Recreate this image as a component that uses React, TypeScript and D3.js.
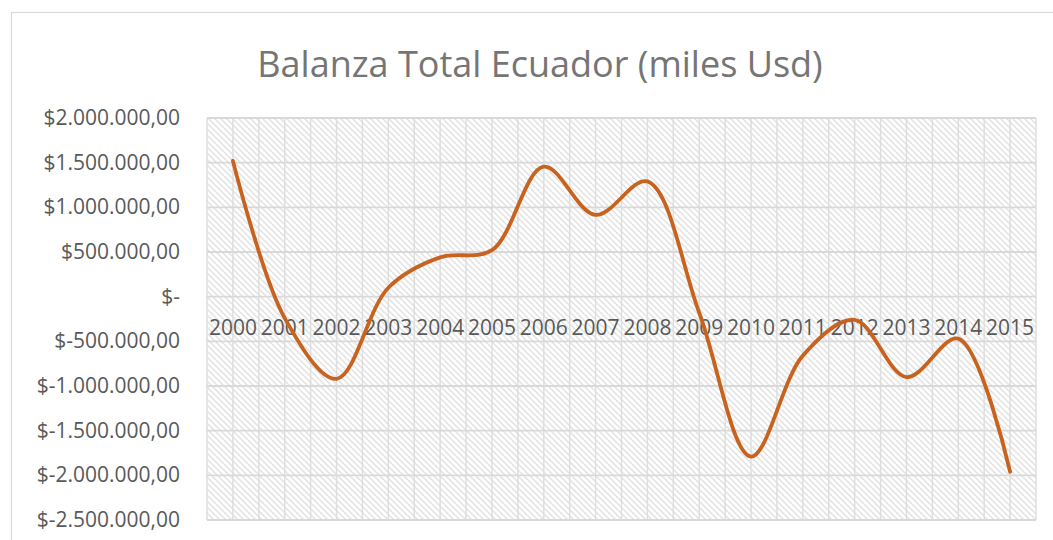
import { useEffect, useRef } from 'react'
import * as d3 from 'd3'

const years = ['2000', '2001', '2002', '2003', '2004', '2005', '2006', '2007',
  '2008', '2009', '2010', '2011', '2012', '2013', '2014', '2015']
const balanza = [1520000, -240000, -920000, 100000, 440000, 520000, 1455000, 915000,
  1290000, -180000, -1790000, -660000, -260000, -900000, -470000, -1960000]
const yTicks = [2000000, 1500000, 1000000, 500000, 0, -500000, -1000000, -1500000, -2000000, -2500000]
const title = 'Balanza Total Ecuador (miles Usd)'

const fmtMoney = (v: number) => {
  if (v === 0) return '$-'
  const s = Math.abs(v).toFixed(2).split('.')
  const int = s[0].replace(/\B(?=(\d{3})+(?!\d))/g, '.')
  return '$' + (v < 0 ? '-' : '') + int + ',' + s[1]
}

export default function App() {
  const svgRef = useRef<SVGSVGElement>(null)

  useEffect(() => {
    const width = 1053, height = 540
    const svg = d3.select(svgRef.current)
    svg.selectAll('*').remove()
    svg.attr('width', width).attr('height', height).style('background', '#fff')

    const font = '"Open Sans", sans-serif'
    const left = 207, right = 1036, top = 118, bottom = 520

    const x = d3.scaleBand<string>().domain(years).range([left, right]).padding(0)
    const y = d3.scaleLinear().domain([-2500000, 2000000]).range([bottom, top])

    // hatch pattern
    const defs = svg.append('defs')
    const pat = defs.append('pattern')
      .attr('id', 'hatch')
      .attr('patternUnits', 'userSpaceOnUse')
      .attr('width', 6).attr('height', 6)
    pat.append('rect').attr('width', 6).attr('height', 6).attr('fill', '#fff')
    pat.append('path')
      .attr('d', 'M-1,-1 L7,7 M-1,5 L1,7 M5,-1 L7,1')
      .attr('stroke', '#e2e2e2')
      .attr('stroke-width', 1.5)

    // chart border
    svg.append('rect')
      .attr('x', 11.5).attr('y', 12.5)
      .attr('width', 1200).attr('height', 700)
      .attr('fill', 'none')
      .attr('stroke', '#d9d9d9')
      .attr('stroke-width', 1.2)

    // plot area
    svg.append('rect')
      .attr('x', left).attr('y', top)
      .attr('width', right - left).attr('height', bottom - top)
      .attr('fill', 'url(#hatch)')

    // vertical grid (major + half)
    const half = x.step() / 2
    d3.range(years.length * 2 + 1).forEach(i => {
      const gx = left + i * half
      svg.append('line')
        .attr('x1', gx).attr('x2', gx)
        .attr('y1', top).attr('y2', bottom)
        .attr('stroke', '#dedede')
        .attr('stroke-width', 1.5)
    })

    // horizontal grid
    yTicks.forEach(t => {
      svg.append('line')
        .attr('x1', left).attr('x2', right)
        .attr('y1', y(t)).attr('y2', y(t))
        .attr('stroke', '#d9d9d9')
        .attr('stroke-width', 1.8)
    })

    // y labels
    yTicks.forEach(t => {
      svg.append('text')
        .text(fmtMoney(t))
        .attr('x', 180)
        .attr('y', y(t) + 7)
        .attr('text-anchor', 'end')
        .attr('font-family', font)
        .attr('font-size', '21px')
        .attr('fill', '#595959')
    })

    // x labels next to zero line
    years.forEach(yr => {
      svg.append('text')
        .text(yr)
        .attr('x', x(yr)! + x.bandwidth() / 2)
        .attr('y', y(0) + 38)
        .attr('text-anchor', 'middle')
        .attr('font-family', font)
        .attr('font-size', '21px')
        .attr('fill', '#595959')
    })

    // smoothed line
    const line = d3.line<number>()
      .x((_, i) => x(years[i])! + x.bandwidth() / 2)
      .y(d => y(d))
      .curve(d3.curveCatmullRom.alpha(0.5))

    svg.append('path')
      .datum(balanza)
      .attr('d', line)
      .attr('fill', 'none')
      .attr('stroke', '#c8631f')
      .attr('stroke-width', 3.8)
      .attr('stroke-linecap', 'round')
      .attr('stroke-linejoin', 'round')

    // title
    svg.append('text')
      .text(title)
      .attr('x', 540)
      .attr('y', 77)
      .attr('text-anchor', 'middle')
      .attr('font-family', font)
      .attr('font-size', '36px')
      .attr('fill', '#757575')
  }, [])

  return (
    <div style={{ position: 'absolute', left: 0, top: 0 }}>
      <svg ref={svgRef} style={{ display: 'block' }} />
    </div>
  )
}
